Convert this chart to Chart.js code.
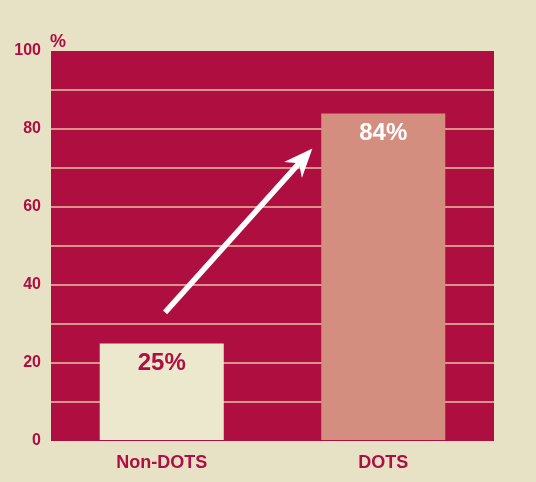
<!DOCTYPE html>
<html>
<head>
<meta charset="utf-8">
<script src="https://cdn.jsdelivr.net/npm/chart.js@4"></script>
<style>
  html, body { margin: 0; padding: 0; background: #e7e2c5; }
  #wrap { width: 536px; height: 482px; }
</style>
</head>
<body>
<div id="wrap"><canvas id="c" width="536" height="482"></canvas></div>
<script>
const categories = ['Non-DOTS', 'DOTS'];
const values = [25, 84];
const valueLabels = ['25%', '84%'];
const barColors = ['#ece8cd', '#d38e80'];
const valueLabelColors = ['#ae0e40', '#ffffff'];
const yTicks = [0, 20, 40, 60, 80, 100];
const yUnit = '%';
// arrow annotation in data coordinates: [category index, value]
const arrowFrom = [0.015, 33];
const arrowTo = [0.68, 75];

const CRIMSON = '#ae0e40';
const GRID = '#d8948a';
const BG = '#e7e2c5';
const FONT = '"Liberation Sans", Arial, sans-serif';

const bgPlugin = {
  id: 'bg',
  beforeDraw(chart) {
    const { ctx, chartArea: a } = chart;
    ctx.save();
    ctx.fillStyle = BG;
    ctx.fillRect(0, 0, chart.width, chart.height);
    ctx.fillStyle = CRIMSON;
    ctx.fillRect(a.left, a.top, a.right - a.left, a.bottom - a.top);
    ctx.restore();
  }
};

const overlayPlugin = {
  id: 'overlay',
  afterDatasetsDraw(chart) {
    const { ctx, chartArea: a, scales } = chart;
    const meta = chart.getDatasetMeta(0);
    ctx.save();
    // value labels
    ctx.font = 'bold 24px ' + FONT;
    ctx.textAlign = 'center';
    ctx.textBaseline = 'middle';
    meta.data.forEach((bar, i) => {
      ctx.fillStyle = valueLabelColors[i];
      ctx.fillText(valueLabels[i], bar.x, bar.y + 20);
    });
    // unit label
    ctx.fillStyle = CRIMSON;
    ctx.font = 'bold 18px ' + FONT;
    ctx.textAlign = 'left';
    ctx.textBaseline = 'alphabetic';
    ctx.fillText(yUnit, a.left - 1, a.top - 4);
    // arrow
    const x0 = scales.x.getPixelForValue(arrowFrom[0]);
    const y0 = scales.y.getPixelForValue(arrowFrom[1]);
    const x1 = scales.x.getPixelForValue(arrowTo[0]);
    const y1 = scales.y.getPixelForValue(arrowTo[1]);
    const dx = x1 - x0, dy = y1 - y0;
    const len = Math.hypot(dx, dy);
    const ux = dx / len, uy = dy / len;
    const nx = -uy, ny = ux;
    const headLen = 29, headW = 12, notch = 20;
    ctx.strokeStyle = '#ffffff';
    ctx.fillStyle = '#ffffff';
    ctx.lineWidth = 5.5;
    ctx.lineCap = 'butt';
    ctx.beginPath();
    ctx.moveTo(x0, y0);
    ctx.lineTo(x1 - ux * notch, y1 - uy * notch);
    ctx.stroke();
    ctx.beginPath();
    ctx.moveTo(x1, y1);
    ctx.lineTo(x1 - ux * headLen + nx * headW, y1 - uy * headLen + ny * headW);
    ctx.lineTo(x1 - ux * notch, y1 - uy * notch);
    ctx.lineTo(x1 - ux * headLen - nx * headW, y1 - uy * headLen - ny * headW);
    ctx.closePath();
    ctx.fill();
    ctx.restore();
  }
};

new Chart(document.getElementById('c'), {
  type: 'bar',
  data: {
    labels: categories,
    datasets: [{
      data: values,
      backgroundColor: barColors,
      borderWidth: 0,
      barPercentage: 0.56,
      categoryPercentage: 1.0
    }]
  },
  options: {
    responsive: false,
    animation: false,
    devicePixelRatio: 1,
    layout: { padding: { top: 51, right: 42, left: 0, bottom: 0 } },
    plugins: { legend: { display: false }, tooltip: { enabled: false } },
    scales: {
      x: {
        grid: { display: false, drawTicks: false },
        border: { display: false },
        ticks: {
          color: CRIMSON,
          padding: 11,
          font: { family: FONT, size: 18, weight: 'bold' }
        },
        afterFit(s) { s.height = 41; }
      },
      y: {
        min: 0, max: 100,
        grid: {
          drawTicks: false,
          lineWidth: 2,
          color: (c) => (c.tick && (c.tick.value === 0 || c.tick.value === 100)) ? 'rgba(0,0,0,0)' : GRID
        },
        border: { display: false },
        ticks: {
          stepSize: 10,
          padding: 10,
          color: CRIMSON,
          font: { family: FONT, size: 16, weight: 'bold' },
          callback: (v) => yTicks.includes(v) ? String(v) : ''
        },
        afterFit(s) { s.width = 51; }
      }
    }
  },
  plugins: [bgPlugin, overlayPlugin]
});
</script>
</body>
</html>
